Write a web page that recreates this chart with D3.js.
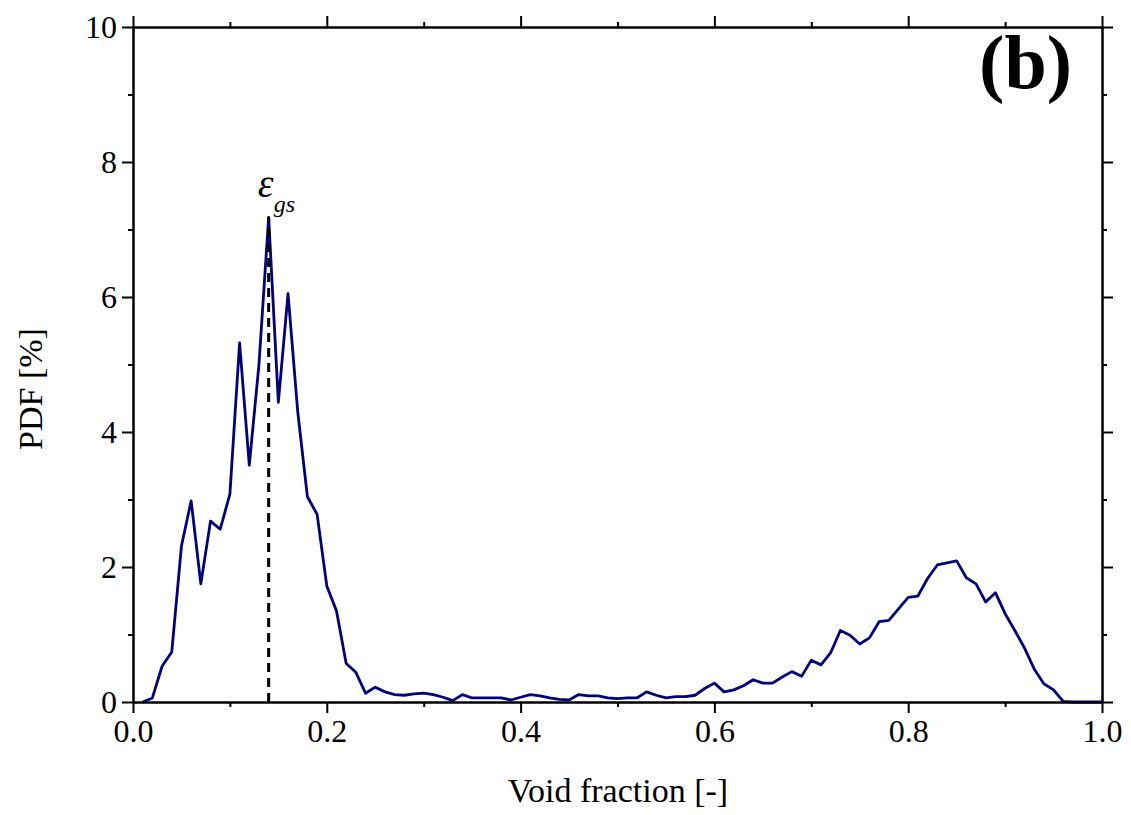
<!DOCTYPE html>
<html>
<head>
<meta charset="utf-8">
<script src="https://cdn.jsdelivr.net/npm/d3@7"></script>
<style>
  body { margin: 0; background: #fff; }
  svg text { font-family: "Liberation Serif", "Times New Roman", serif; }
</style>
</head>
<body>
<svg id="chart"></svg>
<script>
// void fraction (x) and PDF in percent (y)
const voidFraction = [
  0.01, 0.02, 0.03, 0.04, 0.05, 0.06, 0.07, 0.08, 0.09, 0.10,
  0.11, 0.12, 0.13, 0.14, 0.15, 0.16, 0.17, 0.18, 0.19, 0.20,
  0.21, 0.22, 0.23, 0.24, 0.25, 0.26, 0.27, 0.28, 0.29, 0.30,
  0.31, 0.32, 0.33, 0.34, 0.35, 0.36, 0.37, 0.38, 0.39, 0.40,
  0.41, 0.42, 0.43, 0.44, 0.45, 0.46, 0.47, 0.48, 0.49, 0.50,
  0.51, 0.52, 0.53, 0.54, 0.55, 0.56, 0.57, 0.58, 0.59, 0.60,
  0.61, 0.62, 0.63, 0.64, 0.65, 0.66, 0.67, 0.68, 0.69, 0.70,
  0.71, 0.72, 0.73, 0.74, 0.75, 0.76, 0.77, 0.78, 0.79, 0.80,
  0.81, 0.82, 0.83, 0.84, 0.85, 0.86, 0.87, 0.88, 0.89, 0.90,
  0.91, 0.92, 0.93, 0.94, 0.95, 0.96, 0.97, 0.98, 0.99, 1.00
];
const pdf = [
  0.00, 0.06, 0.53, 0.74, 2.31, 2.98, 1.75, 2.68, 2.56, 3.08,
  5.32, 3.51, 5.00, 7.18, 4.44, 6.05, 4.30, 3.04, 2.78, 1.72,
  1.35, 0.57, 0.44, 0.13, 0.22, 0.15, 0.11, 0.10, 0.12, 0.13,
  0.11, 0.07, 0.02, 0.11, 0.06, 0.06, 0.06, 0.06, 0.03, 0.07,
  0.11, 0.09, 0.06, 0.04, 0.03, 0.11, 0.09, 0.09, 0.06, 0.05,
  0.06, 0.06, 0.15, 0.10, 0.06, 0.08, 0.08, 0.10, 0.20, 0.28,
  0.15, 0.18, 0.24, 0.33, 0.28, 0.28, 0.37, 0.45, 0.38, 0.62,
  0.55, 0.73, 1.06, 0.99, 0.86, 0.95, 1.19, 1.21, 1.38, 1.55,
  1.57, 1.83, 2.03, 2.06, 2.09, 1.84, 1.75, 1.48, 1.62, 1.31,
  1.06, 0.80, 0.49, 0.27, 0.18, 0.01, 0.00, 0.00, 0.00, 0.00
];
const xMajor = [0, 0.2, 0.4, 0.6, 0.8, 1.0];
const xMinor = [0.1, 0.3, 0.5, 0.7, 0.9];
const yMajor = [0, 2, 4, 6, 8, 10];
const yMinor = [1, 3, 5, 7, 9];
const epsGs = 0.14;

const width = 1131;
const height = 815;
const margin = { top: 27, right: 29, bottom: 113, left: 133 };

const svg = d3.select("#chart")
    .attr("width", width)
    .attr("height", height);

const data = voidFraction.map((x, i) => ({ x: x, y: pdf[i] }));

const xScale = d3.scaleLinear()
    .domain([0, 1])
    .range([margin.left, width - margin.right]);
const yScale = d3.scaleLinear()
    .domain([0, 10])
    .range([height - margin.bottom, margin.top]);

// line first, frame drawn over it
const line = d3.line()
    .x(d => xScale(d.x))
    .y(d => yScale(d.y));

svg.append("path")
    .datum(data)
    .attr("fill", "none")
    .attr("stroke", "#000080")
    .attr("stroke-width", 2.8)
    .attr("stroke-linejoin", "round")
    .attr("d", line);

// dashed marker at the peak
const peak = data.find(d => Math.abs(d.x - epsGs) < 1e-9);
svg.append("line")
    .attr("x1", xScale(epsGs)).attr("x2", xScale(epsGs))
    .attr("y1", yScale(0)).attr("y2", yScale(peak.y))
    .attr("stroke", "#000")
    .attr("stroke-width", 3)
    .attr("stroke-dasharray", "9,6");

// axes: majors long, minors short, all pointing out
function frame(axisFn, transform, major, minor, fmt) {
    svg.append("g")
        .attr("transform", transform)
        .call(axisFn(major, 11, fmt || (() => "")));
    svg.append("g")
        .attr("transform", transform)
        .call(axisFn(minor, 5, () => ""));
}

const axBottom = (vals, len, fmt) => d3.axisBottom(xScale).tickValues(vals).tickSize(len).tickSizeOuter(0).tickPadding(6).tickFormat(fmt);
const axTop = (vals, len, fmt) => d3.axisTop(xScale).tickValues(vals).tickSize(len).tickSizeOuter(0).tickFormat(fmt);
const axLeft = (vals, len, fmt) => d3.axisLeft(yScale).tickValues(vals).tickSize(len).tickSizeOuter(0).tickPadding(5).tickFormat(fmt);
const axRight = (vals, len, fmt) => d3.axisRight(yScale).tickValues(vals).tickSize(len).tickSizeOuter(0).tickFormat(fmt);

frame(axBottom, `translate(0,${height - margin.bottom})`, xMajor, xMinor, d3.format(".1f"));
frame(axTop, `translate(0,${margin.top})`, xMajor, xMinor);
frame(axLeft, `translate(${margin.left},0)`, yMajor, yMinor, d3.format("d"));
frame(axRight, `translate(${width - margin.right},0)`, yMajor, yMinor);

svg.selectAll(".domain, .tick line")
    .attr("stroke", "#000")
    .attr("stroke-width", 2);
svg.selectAll(".tick text")
    .attr("fill", "#000")
    .style("font-size", "32px");

// axis titles
svg.append("text")
    .attr("x", 618)
    .attr("y", 802)
    .attr("text-anchor", "middle")
    .style("font-size", "34px")
    .text("Void fraction [-]");

svg.append("text")
    .attr("transform", "translate(42,389) rotate(-90)")
    .attr("text-anchor", "middle")
    .style("font-size", "34px")
    .text("PDF [%]");

// epsilon_gs label
const labelY = yScale(peak.y);
svg.append("text")
    .attr("x", xScale(epsGs) - 11)
    .attr("y", labelY - 20)
    .style("font-style", "italic")
    .style("font-size", "40px")
    .text("ε");
svg.append("text")
    .attr("x", xScale(epsGs) + 5)
    .attr("y", labelY - 5)
    .style("font-style", "italic")
    .style("font-size", "24px")
    .text("gs");

// panel label
svg.append("text")
    .attr("x", 1072)
    .attr("y", 88)
    .attr("text-anchor", "end")
    .style("font-size", "76px")
    .style("font-weight", "bold")
    .text("(b)");
</script>
</body>
</html>
